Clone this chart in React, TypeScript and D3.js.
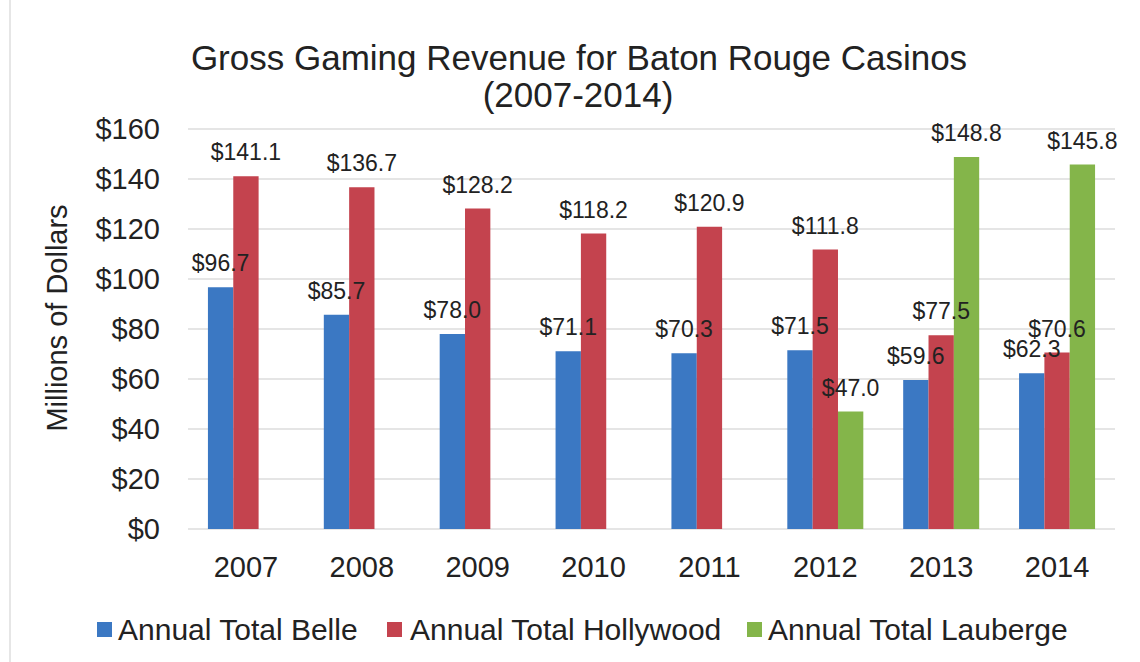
import React from "react";
import * as d3 from "d3";

const years = ["2007", "2008", "2009", "2010", "2011", "2012", "2013", "2014"];
const seriesNames = ["Annual Total Belle", "Annual Total Hollywood", "Annual Total Lauberge"];
const belle = [96.7, 85.7, 78.0, 71.1, 70.3, 71.5, 59.6, 62.3];
const hollywood = [141.1, 136.7, 128.2, 118.2, 120.9, 111.8, 77.5, 70.6];
const lauberge: (number | null)[] = [null, null, null, null, null, 47.0, 148.8, 145.8];
const yTicks = [0, 20, 40, 60, 80, 100, 120, 140, 160];
const colors = ["#3b78c3", "#c4434e", "#84b54a"];

const W = 1140;
const H = 662;
const FONT = "'Liberation Sans', Arial, Helvetica, sans-serif";

export default function App() {
  const plotLeft = 188;
  const plotRight = 1115;
  const y = d3.scaleLinear().domain([0, 160]).range([529, 129]);
  const x0 = d3.scaleBand<string>().domain(years).range([plotLeft, plotRight]).padding(0);
  const groupW = 76;
  const x1 = d3.scaleBand<string>().domain(seriesNames).range([0, groupW]).padding(0);
  const data = [belle, hollywood, lauberge];
  const fmt = (v: number) => "$" + d3.format(".1f")(v);

  const legendSq = [97, 387, 747];
  const legendTx = [118, 410, 768];

  return (
    <svg
      width={W}
      height={H}
      style={{ position: "absolute", left: 0, top: 0, background: "#fff" }}
      fontFamily={FONT}
    >
      <rect x={0} y={0} width={W} height={H} fill="#fff" />
      <line x1={10} x2={10} y1={0} y2={H} stroke="#e6e6e6" strokeWidth={2} />
      {/* title */}
      <text x={579} y={70} textAnchor="middle" fontSize={35} fill="#222">
        Gross Gaming Revenue for Baton Rouge Casinos
      </text>
      <text x={578} y={107} textAnchor="middle" fontSize={35} fill="#222">
        (2007-2014)
      </text>
      {/* gridlines */}
      {yTicks.map((t) => (
        <line
          key={"g" + t}
          x1={plotLeft}
          x2={plotRight}
          y1={y(t)}
          y2={y(t)}
          stroke="#dcdcdc"
          strokeWidth={1.5}
        />
      ))}
      {/* y tick labels */}
      {yTicks.map((t) => (
        <text
          key={"t" + t}
          x={160}
          y={y(t)}
          dy="0.36em"
          textAnchor="end"
          fontSize={29}
          fill="#222"
        >
          {"$" + t}
        </text>
      ))}
      <text
        transform={`translate(57,318) rotate(-90)`}
        textAnchor="middle"
        dy="0.36em"
        fontSize={29}
        fill="#222"
      >
        Millions of Dollars
      </text>
      {/* bars */}
      {years.map((yr, i) => {
        const gx = (x0(yr) as number) + (x0.bandwidth() - groupW) / 2;
        return (
          <g key={yr}>
            {data.map((s, k) => {
              const v = s[i];
              if (v == null) return null;
              return (
                <rect
                  key={k}
                  x={gx + (x1(seriesNames[k]) as number)}
                  y={y(v)}
                  width={x1.bandwidth()}
                  height={y(0) - y(v)}
                  fill={colors[k]}
                />
              );
            })}
          </g>
        );
      })}
      {/* data labels */}
      {years.map((yr, i) => {
        const gx = (x0(yr) as number) + (x0.bandwidth() - groupW) / 2;
        return (
          <g key={"l" + yr}>
            {data.map((s, k) => {
              const v = s[i];
              if (v == null) return null;
              return (
                <text
                  key={k}
                  x={gx + (x1(seriesNames[k]) as number) + x1.bandwidth() / 2}
                  y={y(v) - 16}
                  textAnchor="middle"
                  fontSize={23}
                  fill="#222"
                >
                  {fmt(v)}
                </text>
              );
            })}
          </g>
        );
      })}
      {/* x labels */}
      {years.map((yr) => (
        <text
          key={"x" + yr}
          x={(x0(yr) as number) + x0.bandwidth() / 2}
          y={577}
          textAnchor="middle"
          fontSize={29}
          fill="#222"
        >
          {yr}
        </text>
      ))}
      {/* legend */}
      {seriesNames.map((n, k) => (
        <g key={"lg" + n}>
          <rect x={legendSq[k]} y={622} width={15} height={15} fill={colors[k]} />
          <text x={legendTx[k]} y={640} fontSize={30} fill="#222">
            {n}
          </text>
        </g>
      ))}
    </svg>
  );
}
